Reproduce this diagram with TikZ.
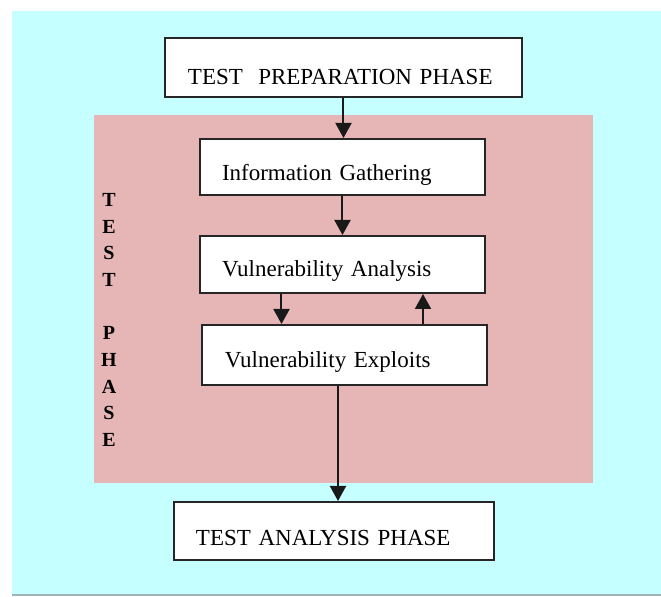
\documentclass[tikz,border=0pt]{standalone}
\usepackage{fontspec}
\setmainfont{Liberation Serif}
\usetikzlibrary{arrows.meta,positioning}
\definecolor{sky}{HTML}{C6FFFF}
\definecolor{rose}{HTML}{E6B6B6}
\definecolor{edge}{HTML}{9FB4B4}

\begin{document}
\begin{tikzpicture}[
  x=0.5pt, y=-0.5pt,
  box/.style={draw=black!85, line width=1pt, fill=white, align=left,
              font=\fontsize{11.5}{13}\selectfont, inner ysep=0pt, inner xsep=11pt,
              text depth=0pt, text height=13.5pt},
  arr/.style={-{Triangle[length=7.5pt, width=8pt]}, line width=1pt, draw=black!90}]
  \useasboundingbox (0,0) rectangle (661,597);
  % background panels
  \fill[sky] (12.5,11) rectangle (661,595);
  \draw[edge, line width=0.8pt] (12.5,595) -- (661,595);
  \fill[rose] (94,115) rectangle (593,483);
  \node[font=\fontsize{10}{13.33}\selectfont\bfseries, align=center, inner sep=0pt] (phase) at (109,320)
    {T\\E\\S\\T\\[13.33pt]P\\H\\A\\S\\E};
  % boxes
  \node[box, inner xsep=11.5pt, text width=155.5pt, text height=17.5pt, minimum height=29.5pt] (prep) at (343.5,67.5)
    {TEST\ \ PREPARATION PHASE};
  \node[box, text width=120.5pt, minimum height=28pt, below=20pt of prep, xshift=-0.5pt] (info)
    {Information Gathering};
  \node[box, text width=120.5pt, text height=12.5pt, minimum height=28.5pt, below=19.5pt of info] (vuln)
    {Vulnerability Analysis};
  \node[box, inner xsep=11.5pt, text width=119.5pt, text height=13pt, minimum height=30pt, below=15pt of vuln, xshift=1pt] (expl)
    {Vulnerability Exploits};
  \node[box, text width=138pt, text height=14.5pt, minimum height=29pt, below=57.5pt of expl, xshift=-5.25pt] (anal)
    {TEST ANALYSIS PHASE};
  % flow
  \draw[arr] (prep.south) -- (prep.south |- info.north);
  \draw[arr] (info.south) -- (vuln.north);
  \draw[arr] ([xshift=-30.5pt]vuln.south) -- ([xshift=-30.5pt]vuln.south |- expl.north);
  \draw[arr] ([xshift=39.25pt]expl.north) -- ([xshift=39.25pt]expl.north |- vuln.south);
  \draw[arr] ([xshift=-3.25pt]expl.south) -- ([xshift=-3.25pt]expl.south |- anal.north);
\end{tikzpicture}
\end{document}
